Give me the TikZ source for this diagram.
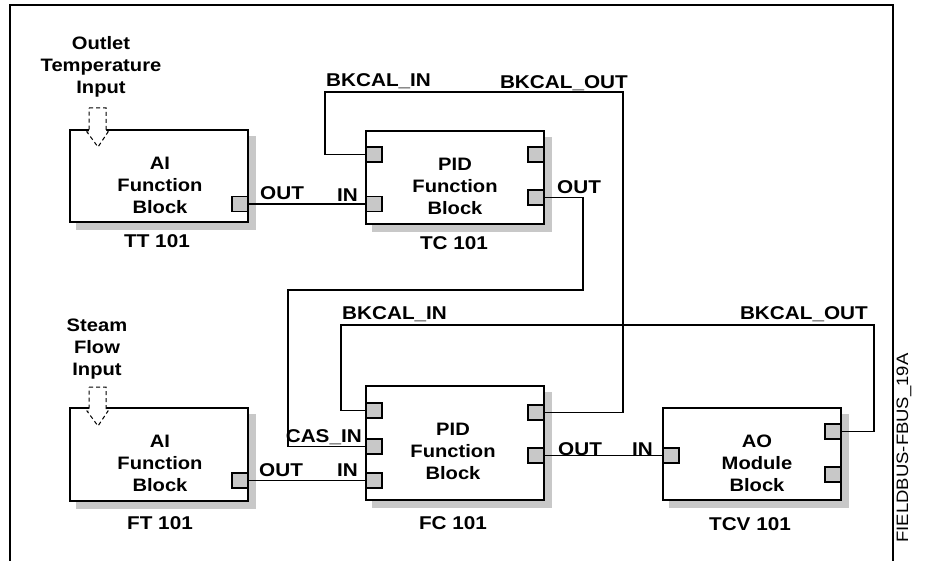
\documentclass[tikz,border=0pt]{standalone}
\usepackage{fontspec}
\setmainfont{Liberation Sans}[FakeStretch=1.12]
\usetikzlibrary{calc,backgrounds}
\definecolor{shadowc}{RGB}{200,200,200}
\definecolor{portc}{RGB}{200,200,200}
\tikzset{
  fblock/.style={draw, line width=1.4pt, fill=white, minimum width=178pt, inner sep=0pt},
  bshadow/.style={fill=shadowc},
  port/.style={draw, line width=1.2pt, fill=portc, minimum width=16pt, minimum height=15pt, inner sep=0pt},
  wire/.style={line width=1.1pt},
  lbl/.style={font=\bfseries\fontsize{18.5}{22}\selectfont, inner sep=0pt, anchor=base},
  btxt/.style={font=\bfseries\fontsize{18}{22}\selectfont, inner sep=0pt, align=center, anchor=base},
  inarrow/.style={draw, dashed, dash pattern=on 4pt off 3pt, line width=1pt, fill=white},
}
\begin{document}
\begin{tikzpicture}[x=1pt,y=-1pt]
\useasboundingbox (0,0) rectangle (929,561);
% frame
\draw[line width=2.5pt] (10,561) -- (10,5) -- (893,5) -- (893,561);
\node[font=\fontsize{16.5}{20}\selectfont, rotate=90, inner sep=0pt] (figid) at (904,448) {FIELDBUS-FBUS\_19A};

% blocks
\node[fblock, minimum height=92pt] (tt) at (159,176) {};
\node[fblock, minimum height=93pt] (tc) at (455,177.5) {};
\node[fblock, minimum height=93pt] (ft) at (159,454.5) {};
\node[fblock, minimum height=114pt] (fc) at (455,443) {};
\node[fblock, minimum height=92pt] (ao) at (752,454) {};

% shadows
\begin{scope}[on background layer]
\foreach \b in {tt,tc,ft,fc,ao}
  \fill[bshadow] ($(\b.south west)+(7,7)$) rectangle ($(\b.north east)+(7,7)$);
\end{scope}

% ports
\node[port] (ttout) at (240,204) {};
\node[port] (tcbk) at (374,154.5) {};
\node[port] (tcin) at (374,204) {};
\node[port] (tcrt) at (536,154.5) {};
\node[port] (tcout) at (536,197.5) {};
\node[port] (fcbk) at (374,410.5) {};
\node[port] (fccas) at (374,446.5) {};
\node[port] (fcin) at (374,480.5) {};
\node[port] (fcrt) at (536,412.5) {};
\node[port] (fcout) at (536,455.5) {};
\node[port] (aoin) at (671,455.5) {};
\node[port] (aort) at (833,431.5) {};
\node[port] (aorb) at (833,474.5) {};
\node[port] (ftout) at (240,480.5) {};

% input arrows
\draw[inarrow] (89,108) -- (106,108) -- (106,132) -- (108,132) -- (98,147) -- (87,132) -- (89,132) -- cycle;
\draw[inarrow] (89,387) -- (106,387) -- (106,411) -- (108,411) -- (98,426) -- (87,411) -- (89,411) -- cycle;

% bend points
\coordinate (c1) at (325,92);
\coordinate (c2) at (623,92);
\coordinate (c3) at (583,290);
\coordinate (c4) at (288,290);
\coordinate (c5) at (341,325);
\coordinate (c6) at (874,325);

% connectors
\draw[wire] (ttout.east) -- (ttout.east -| tcin.west);
\draw[wire] (tcbk.west) -| (c1) -- (c2) |- (fcrt.east);
\draw[wire] (tcout.east) -| (c3) -- (c4) |- (fccas.west);
\draw[wire] (fcbk.west) -| (c5) -- (c6) |- (aort.east);
\draw[wire] (fcout.east) -- (fcout.east -| aoin.west);
\draw[wire] (ftout.east) -- (ftout.east -| fcin.west);

% block texts (anchor = baseline of last line)
\node[btxt] (tttxt) at (160,213.5) {AI\\Function\\Block};
\node[btxt] (tctxt) at (455,214.5) {PID\\Function\\Block};
\node[btxt] (fttxt) at (160,491) {AI\\Function\\Block};
\node[btxt] (fctxt) at (453,479.5) {PID\\Function\\Block};
\node[btxt] (aotxt) at (757,491) {AO\\Module\\Block};

% tags
\node[lbl] (ttlab) at (157,247.5) {TT 101};
\node[lbl] (tclab) at (454,249.5) {TC 101};
\node[lbl] (ftlab) at (160,529.5) {FT 101};
\node[lbl] (fclab) at (453,529.5) {FC 101};
\node[lbl] (aolab) at (750,530.5) {TCV 101};

% input descriptions
\node[btxt] (ttin) at (101,93.5) {Outlet\\Temperature\\Input};
\node[btxt] (ftin) at (97,375.5) {Steam\\Flow\\Input};

% port labels
\node[lbl, anchor=base west] (l1) at (260,199.5) {OUT};
\node[lbl, anchor=base east] (l2) at (358,201.5) {IN};
\node[lbl, anchor=base west] (l3) at (326,86.5) {BKCAL\_IN};
\node[lbl, anchor=base east] (l4) at (628,88.5) {BKCAL\_OUT};
\node[lbl, anchor=base west] (l5) at (557,193.5) {OUT};
\node[lbl, anchor=base west] (l6) at (342,319.5) {BKCAL\_IN};
\node[lbl, anchor=base east] (l7) at (868,319.5) {BKCAL\_OUT};
\node[lbl, anchor=base east] (l8) at (362,442.5) {CAS\_IN};
\node[lbl, anchor=base west] (l9) at (259,476.5) {OUT};
\node[lbl, anchor=base east] (l10) at (358,476.5) {IN};
\node[lbl, anchor=base west] (l11) at (558,455.5) {OUT};
\node[lbl, anchor=base east] (l12) at (653,455.5) {IN};
\end{tikzpicture}
\end{document}
